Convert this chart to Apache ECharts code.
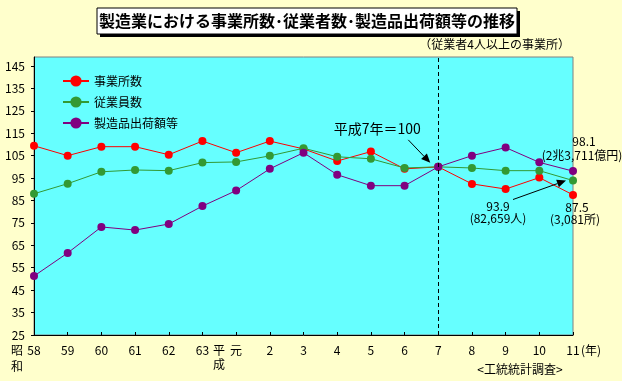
<!DOCTYPE html>
<html><head><meta charset="utf-8">
<script src="https://cdn.jsdelivr.net/npm/echarts@6/dist/echarts.min.js"></script>
<style>html,body{margin:0;padding:0;background:#FFFFCC;}#c{width:622px;height:381px;}</style>
</head><body><div id="c"></div>
<script>
const categories = ['58','59','60','61','62','63','元','2','3','4','5','6','7','8','9','10','11'];
const establishments = [109.4,105.0,109.0,109.0,105.4,111.5,106.3,111.5,108.0,102.6,106.8,99.1,100,92.4,90.1,95.2,87.5];
const employees = [88.0,92.5,97.8,98.6,98.3,101.9,102.2,104.9,108.3,104.5,103.6,99.5,100,99.5,98.3,98.3,93.9];
const shipments = [51.3,61.6,73.2,71.8,74.5,82.5,89.4,99.1,106.3,96.5,91.6,91.6,100,105.0,108.6,102.0,98.1];
const seriesNames = ['事業所数','従業員数','製造品出荷額等'];
const seriesColors = ['#FF0000','#339933','#800080'];
const yMin = 25, yMax = 149, yInterval = 10;
const baseCategory = '7';

const FONT = '"Noto Sans CJK JP", sans-serif';
const chart = echarts.init(document.getElementById('c'));
const allData = [establishments, employees, shipments];

const series = allData.map((d, i) => ({
  name: seriesNames[i], type: 'line', data: d,
  symbol: 'circle', symbolSize: 8, showSymbol: true,
  lineStyle: {width: 1, color: seriesColors[i]},
  itemStyle: {color: seriesColors[i]},
  z: 2 + i
}));
series[0].markLine = {
  silent: true, symbol: ['none','none'], animation: false,
  label: {show: false},
  lineStyle: {type: [4,3], color: '#000', width: 1},
  data: [{xAxis: baseCategory}]
};

chart.setOption({
  animation: false,
  backgroundColor: '#FFFFCC',
  textStyle: {fontFamily: FONT},
  grid: {left: 34, right: 49, top: 57, bottom: 46, show: true,
    backgroundColor: '#66FFFF', borderColor: '#808080', borderWidth: 1},
  legend: {
    orient: 'vertical', left: 57, top: 69, itemWidth: 26, itemHeight: 14, itemGap: 7,
    textStyle: {fontFamily: FONT, fontSize: 12, color: '#000', lineHeight: 14},
    data: seriesNames
  },
  xAxis: {
    type: 'category', data: categories, boundaryGap: false,
    axisLine: {lineStyle: {color: '#000', width: 1}},
    axisTick: {inside: true, length: 3, lineStyle: {color: '#000'}},
    axisLabel: {color: '#000', fontSize: 12, margin: 9, fontFamily: FONT, interval: 0},
    splitLine: {show: false}
  },
  yAxis: {
    type: 'value', min: yMin, max: yMax, interval: yInterval,
    axisLine: {show: true, lineStyle: {color: '#000', width: 1}},
    axisTick: {show: true, length: 3, lineStyle: {color: '#000'}},
    axisLabel: {color: '#000', fontSize: 12, margin: 9, fontFamily: FONT, showMaxLabel: false},
    splitLine: {show: false}
  },
  series: series
});

function px(cat, val) { return chart.convertToPixel({gridIndex: 0}, [cat, val]); }
function arrow(x1, y1, x2, y2) {
  const dx = x2 - x1, dy = y2 - y1, L = Math.hypot(dx, dy);
  const ux = dx / L, uy = dy / L, hl = 9, hw = 4;
  const bx = x2 - ux * hl, by = y2 - uy * hl;
  return [
    {type: 'line', shape: {x1: x1, y1: y1, x2: bx, y2: by}, style: {stroke: '#000', lineWidth: 1}, z: 20},
    {type: 'polygon', shape: {points: [[x2, y2], [bx - uy * hw, by + ux * hw], [bx + uy * hw, by - ux * hw]]}, style: {fill: '#000'}, z: 20}
  ];
}
function txt(x, y, s, opt) {
  return Object.assign({type: 'text', x: x, y: y, z: 20,
    style: Object.assign({text: s, font: '12px ' + FONT, fill: '#000', align: 'center', verticalAlign: 'middle'}, opt || {})});
}

const last = categories[categories.length - 1];
const p7 = px(baseCategory, 100);
const pGreen = px(last, employees[employees.length - 1]);
const pPurple = px(last, shipments[shipments.length - 1]);
const pRed = px(last, establishments[establishments.length - 1]);

const g = [
  {type: 'rect', shape: {x: 100, y: 11, width: 420, height: 26}, style: {fill: '#000'}, z: 10},
  {type: 'rect', shape: {x: 97, y: 8, width: 420, height: 26}, style: {fill: '#fff', stroke: '#000', lineWidth: 1}, z: 11},
  txt(307, 21, '製造業における事業所数･従業者数･製造品出荷額等の推移', {font: 'bold 16px ' + FONT}),
  txt(570, 44, '（従業者4人以上の事業所）', {align: 'right'}),
  txt(17, 350, '昭', {}), txt(17, 366, '和', {}),
  txt(219, 350, '平', {}), txt(219, 364, '成', {}),
  txt(591, 350, '(年)', {}),
  txt(520, 369, '<工統統計調査>', {}),
  txt(p7[0] - 61, p7[1] - 38, '平成7年＝100', {font: '14px ' + FONT}),
  txt(pPurple[0] + 11, pPurple[1] - 30, '98.1'),
  txt(pPurple[0] + 9, pPurple[1] - 16, '(2兆3,711億円)'),
  txt(pRed[0] + 4, pRed[1] + 13, '87.5'),
  txt(pRed[0] + 2, pRed[1] + 25, '(3,081所)'),
  txt(pGreen[0] - 75, pGreen[1] + 26, '93.9'),
  txt(pGreen[0] - 75, pGreen[1] + 38, '(82,659人)')
].concat(
  arrow(p7[0] - 30, p7[1] - 27, p7[0] - 8, p7[1] - 4),
  arrow(pGreen[0] - 60, pGreen[1] + 19, pGreen[0] - 7, pGreen[1])
);
chart.setOption({graphic: g});
</script></body></html>
